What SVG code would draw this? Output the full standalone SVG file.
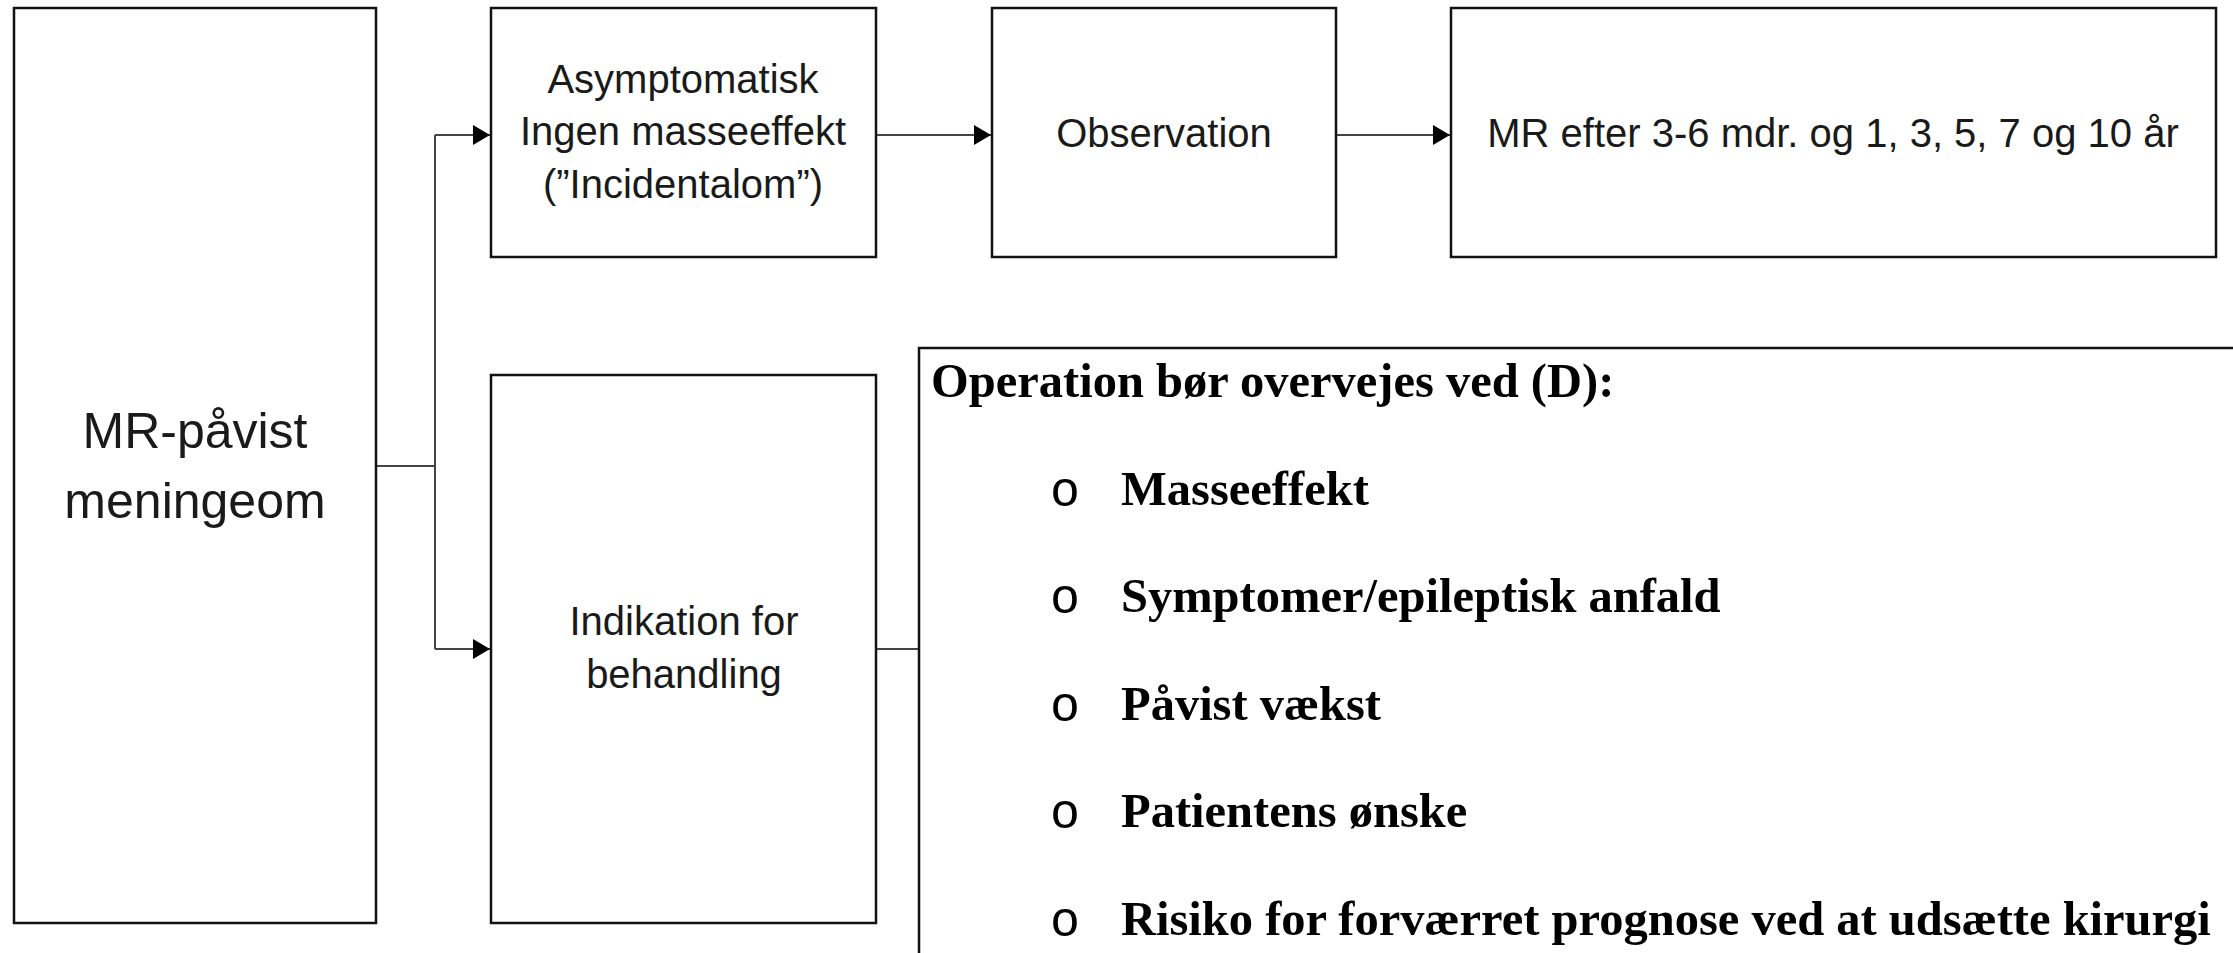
<svg xmlns="http://www.w3.org/2000/svg" width="2233" height="953" viewBox="0 0 2233 953">
  <style>
    .box { fill: #ffffff; stroke: #111111; stroke-width: 2.5; }
    .lbl { font-family: "Liberation Sans", Arial, sans-serif; font-size: 40px; fill: #1a1a1a; text-anchor: middle; }
    .big { font-size: 50px; }
    .conn { fill: none; stroke: #444444; stroke-width: 2; }
    .op { font-family: "Liberation Serif", "Times New Roman", serif; font-weight: bold; font-size: 48.5px; fill: #000000; }
    .bul { font-family: "Liberation Mono", "Courier New", monospace; font-size: 50px; fill: #000000; }
  </style>
  <defs>
    <marker id="arrow" markerWidth="18" markerHeight="20" refX="17" refY="10" orient="auto" markerUnits="userSpaceOnUse">
      <path d="M0,0 L17,10 L0,20 Z" fill="#000000"/>
    </marker>
  </defs>
  <rect width="2233" height="953" fill="#ffffff"/>

  <g id="connectors">
    <path class="conn" d="M376,466 H435"/>
    <path class="conn" d="M435,135 V649"/>
    <path class="conn" d="M435,135 H490" marker-end="url(#arrow)"/>
    <path class="conn" d="M435,649 H490" marker-end="url(#arrow)"/>
    <path class="conn" d="M876,135 H991" marker-end="url(#arrow)"/>
    <path class="conn" d="M1336,135 H1450" marker-end="url(#arrow)"/>
    <path class="conn" d="M876,649 H919"/>
  </g>

  <g id="node-mr">
    <rect class="box" x="14" y="8" width="362" height="915"/>
    <text class="lbl big" x="195" y="448">MR-påvist</text>
    <text class="lbl big" x="195" y="518">meningeom</text>
  </g>

  <g id="node-asymptomatisk">
    <rect class="box" x="491" y="8" width="385" height="249"/>
    <text class="lbl" x="683" y="93">Asymptomatisk</text>
    <text class="lbl" x="683" y="145">Ingen masseeffekt</text>
    <text class="lbl" x="683" y="198">(”Incidentalom”)</text>
  </g>

  <g id="node-observation">
    <rect class="box" x="992" y="8" width="344" height="249"/>
    <text class="lbl" x="1164" y="147">Observation</text>
  </g>

  <g id="node-mr-efter">
    <rect class="box" x="1451" y="8" width="765" height="249"/>
    <text class="lbl" x="1833" y="147">MR efter 3-6 mdr. og 1, 3, 5, 7 og 10 år</text>
  </g>

  <g id="node-indikation">
    <rect class="box" x="491" y="375" width="385" height="548"/>
    <text class="lbl" x="684" y="635">Indikation for</text>
    <text class="lbl" x="684" y="688">behandling</text>
  </g>

  <g id="node-operation">
    <rect class="box" x="919" y="348" width="1330" height="620"/>
    <text class="op" x="931" y="397">Operation bør overvejes ved (D):</text>
    <text class="bul" x="1050" y="506">o</text>
    <text class="op" x="1121" y="505">Masseeffekt</text>
    <text class="bul" x="1050" y="613">o</text>
    <text class="op" x="1121" y="612">Symptomer/epileptisk anfald</text>
    <text class="bul" x="1050" y="721">o</text>
    <text class="op" x="1121" y="720">Påvist vækst</text>
    <text class="bul" x="1050" y="828">o</text>
    <text class="op" x="1121" y="827">Patientens ønske</text>
    <text class="bul" x="1050" y="936">o</text>
    <text class="op" x="1121" y="935">Risiko for forværret prognose ved at udsætte kirurgi</text>
  </g>
</svg>
